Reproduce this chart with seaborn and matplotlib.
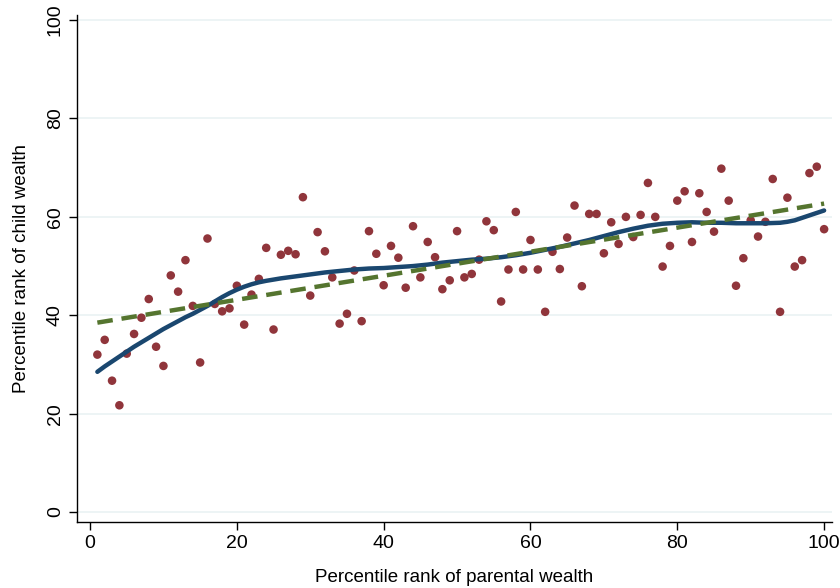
import numpy as np
import pandas as pd
import matplotlib
matplotlib.use("Agg")
import matplotlib.pyplot as plt
import seaborn as sns

# binned scatter: parental percentile 1..100 vs mean child percentile
parent_rank = list(range(1, 101))
child_rank = [
    32.0, 35.0, 26.7, 21.7, 32.2, 36.2, 39.5, 43.3, 33.6, 29.7,
    48.1, 44.8, 51.2, 41.9, 30.4, 55.6, 42.3, 40.8, 41.4, 46.0,
    38.1, 44.2, 47.4, 53.7, 37.1, 52.3, 53.1, 52.4, 64.0, 44.0,
    56.9, 53.0, 47.7, 38.3, 40.3, 49.1, 38.8, 57.1, 52.5, 46.1,
    54.1, 51.7, 45.6, 58.1, 47.7, 54.9, 51.8, 45.3, 47.1, 57.1,
    47.7, 48.4, 51.3, 59.1, 57.3, 42.8, 49.3, 61.0, 49.3, 55.3,
    49.3, 40.7, 52.9, 49.4, 55.8, 62.3, 45.9, 60.6, 60.6, 52.6,
    58.9, 54.5, 60.0, 55.9, 60.4, 66.9, 60.0, 49.9, 54.1, 63.3,
    65.2, 54.9, 64.8, 61.0, 57.0, 69.8, 63.3, 46.0, 51.6, 59.3,
    56.0, 59.0, 67.7, 40.7, 63.9, 49.9, 51.2, 68.9, 70.2, 57.5,
]

# smooth (local polynomial) fit
smooth_x = [1, 2, 3, 4, 5, 6, 7, 8, 9, 10, 11, 12, 13, 14, 15, 16, 17, 18, 19, 20,
            21, 22, 23, 24, 26, 28, 30, 32, 34, 36, 38, 40, 42, 44, 46, 48, 50,
            52, 54, 56, 58, 60, 62, 64, 66, 68, 70, 72, 74, 76, 78, 80, 82, 84,
            86, 88, 90, 92, 94, 95, 96, 97, 98, 99, 100]
smooth_y = [28.5, 29.6, 30.6, 31.6, 32.6, 33.6, 34.5, 35.4, 36.3, 37.2, 38.0, 38.8, 39.6,
            40.3, 41.1, 41.9, 42.8, 43.7, 44.5, 45.2, 45.8, 46.3, 46.7, 47.0, 47.5, 47.9,
            48.3, 48.7, 49.0, 49.3, 49.5, 49.6, 49.8, 50.0, 50.3, 50.7, 51.0, 51.3, 51.5,
            51.8, 52.2, 52.7, 53.3, 53.9, 54.6, 55.3, 56.1, 56.9, 57.6, 58.2, 58.6, 58.8,
            58.9, 58.8, 58.8, 58.7, 58.7, 58.7, 58.8, 59.0, 59.3, 59.8, 60.3, 60.8, 61.3]

# linear fit
linear_x = [1, 100]
linear_y = [38.5, 62.7]

df = pd.DataFrame({"parent": parent_rank, "child": child_rank})

sns.set_style("white")
plt.rcParams['font.family'] = ['Liberation Sans', 'DejaVu Sans']

fig = plt.figure(figsize=(8.4, 5.88), dpi=100)
ax = fig.add_axes([0.0917, 0.1122, 0.899, 0.862])

sns.scatterplot(data=df, x="parent", y="child", color="#90353b", s=38,
                edgecolor="none", ax=ax, zorder=3)
sns.lineplot(x=smooth_x, y=smooth_y, color="#1a476f", linewidth=3.2, ax=ax, zorder=4)
sns.lineplot(x=linear_x, y=linear_y, color="#55752f", linewidth=3.2, ax=ax, zorder=5,
             dashes=False, linestyle=(0, (3.5, 2)))

ax.set_xlim(-1.77, 101.1)
ax.set_ylim(-2.03, 101)
ax.set_xticks([0, 20, 40, 60, 80, 100])
ax.set_yticks([0, 20, 40, 60, 80, 100])
ax.yaxis.grid(True, color="#eaf2f3", linewidth=1.2)
ax.xaxis.grid(False)
ax.set_axisbelow(True)

sns.despine(ax=ax)
for s in ["left", "bottom"]:
    ax.spines[s].set_color("black")
    ax.spines[s].set_linewidth(1.0)

ax.tick_params(axis="both", direction="out", length=6, width=1, color="black",
               labelcolor="black", labelsize=14, left=True, bottom=True)
plt.setp(ax.get_yticklabels(), rotation=90, va="center")

ax.set_xlabel("Percentile rank of parental wealth", fontsize=13.5, labelpad=12,
              color="black")
ax.set_ylabel("Percentile rank of child wealth", fontsize=13.5, labelpad=12,
              color="black")

fig.savefig("out.png", dpi=100)
